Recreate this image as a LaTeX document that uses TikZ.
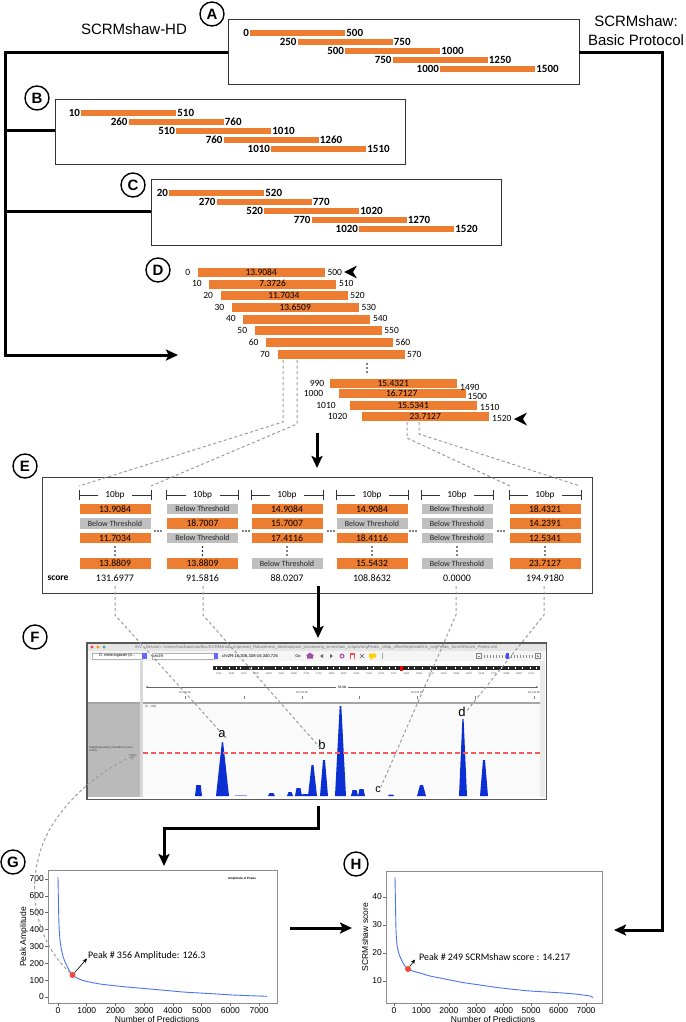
\documentclass[tikz,border=0pt]{standalone}
\usepackage{fontspec}
\setmainfont{Liberation Sans}
\newfontfamily\calib{Carlito}
\usetikzlibrary{arrows.meta}
\definecolor{barc}{HTML}{ED7D31}
\definecolor{thrc}{HTML}{BFBFBF}
\definecolor{guidec}{HTML}{9C9C9C}
\definecolor{peakc}{HTML}{0B2FD3}
\definecolor{curvec}{HTML}{4B74F2}
\definecolor{dotc}{HTML}{F2493A}
\definecolor{refc}{HTML}{F25C5C}
\newcommand\BT{Below Threshold}
\newcommand\hdd[2]{\fill (#1-3,#2) circle (0.85pt) (#1,#2) circle (0.85pt) (#1+3,#2) circle (0.85pt);}
\newcommand\vdd[2]{\fill (#1,#2-4) circle (0.85pt) (#1,#2) circle (0.85pt) (#1,#2+4) circle (0.85pt);}
\newcommand\pk[4]{\fill[peakc] (#1,796) -- ({(#1+#2)/2-#4},#3) -- ({(#1+#2)/2+#4},#3) -- (#2,796) -- cycle;}
\tikzset{
 flow/.style={line width=3pt, line join=miter, -{Stealth[length=12pt,width=11pt,inset=2.5pt]}},
 flowln/.style={line width=3pt},
 framebox/.style={draw=black!80, line width=0.9pt, fill=white, inner sep=0pt, anchor=north west},
 lettag/.style={circle, draw, fill=white, line width=1.4pt, minimum size=24pt, inner sep=0pt, font=\bfseries\fontsize{15}{15}\selectfont},
 guide/.style={draw=guidec, line width=1pt, dash pattern=on 3pt off 2.5pt},
 segbar/.style={fill=barc, minimum width=95pt, minimum height=6pt, inner sep=0pt, anchor=west},
 seglab/.style={font=\calib\bfseries\fontsize{11}{11}\selectfont, inner sep=0.8pt},
 dbar/.style={fill=barc, draw=white, line width=0.4pt, minimum width=128pt, minimum height=10pt, inner sep=0pt, anchor=west, font=\calib\fontsize{9.5}{10}\selectfont},
 dlab/.style={font=\calib\fontsize{9.5}{10}\selectfont, inner sep=0.5pt},
 celo/.style={fill=barc, minimum width=71pt, minimum height=10.5pt, inner sep=0pt, font=\calib\fontsize{9.7}{10}\selectfont},
 celg/.style={fill=thrc, minimum width=71pt, minimum height=10.5pt, inner sep=0pt, font=\calib\fontsize{8}{9}\selectfont, text=black!85},
 brk/.style={draw=black!80, line width=0.7pt},
 tinytxt/.style={inner sep=0pt, font=\fontsize{3.5}{4}\selectfont},
 ticklab/.style={font=\fontsize{8.5}{9}\selectfont, inner sep=0pt},
 axlab/.style={font=\fontsize{8.5}{9}\selectfont, inner sep=0pt},
 annot/.style={font=\calib\fontsize{10}{11}\selectfont, inner sep=0pt, anchor=west},
 pkl/.style={font=\fontsize{13}{13}\selectfont, inner sep=0pt},
 plotframe/.style={draw=black!45, line width=0.8pt, inner sep=0pt, anchor=north west},
 smalltip/.style={line width=0.6pt, -{Stealth[length=4.5pt,width=4pt]}},
}
\begin{document}
\begin{tikzpicture}[x=1pt,y=-1pt]
\useasboundingbox[fill=white] (0,0) rectangle (685,1022);

% ---------- headings ----------
\node[font=\fontsize{15}{15}\selectfont, inner sep=0] (hd) at (134,29) {SCRMshaw-HD};
\node[font=\fontsize{15}{19}\selectfont, align=center, inner sep=0] (bp) at (636,31) {SCRMshaw:\\Basic Protocol};

% ---------- boxes A B C ----------
\node[framebox, minimum width=351pt, minimum height=65pt] (boxA) at (228,19) {};
\node[framebox, minimum width=350pt, minimum height=65pt] (boxB) at (55,99) {};
\node[framebox, minimum width=350pt, minimum height=66pt] (boxC) at (151,179) {};

% ---------- thick connectors ----------
\coordinate (aL) at (228,53);
\coordinate (aR) at (579,53);
\coordinate (jTL) at (5,53);
\coordinate (jTR) at (662,53);
\coordinate (jB) at (5,131);
\coordinate (jC) at (5,211);
\coordinate (jD) at (5,355);
\coordinate (tipD) at (178,355);
\coordinate (jH) at (662,930);
\coordinate (tipH) at (614,930);
\draw[flow] (aL) -- (jTL) -- (jD) -- (tipD);
\draw[flowln] (jB) -- (boxB.west |- jB);
\draw[flowln] (jC) -- (boxC.west |- jC);
\draw[flow] (aR) -- (jTR) -- (jH) -- (tipH);

% ---------- letter tags ----------
\node[lettag] (tA) at (212,14) {A};
\node[lettag] (tB) at (37,98) {B};
\node[lettag] (tC) at (133,185) {C};
\node[lettag] (tD) at (158,270) {D};
\node[lettag] (tE) at (25,466) {E};
\node[lettag] (tF) at (35,637) {F};
\node[lettag] (tG) at (13,862) {G};
\node[lettag] (tH) at (356,864) {H};

% ---------- bars in A, B, C ----------
\foreach \i/\l/\r in {0/0/500,1/250/750,2/500/1000,3/750/1250,4/1000/1500}{
  \node[segbar] (a\i) at ({250+47.5*\i},{33+9*\i}) {};
  \node[seglab, anchor=east] (al\i) at (a\i.west) {\l};
  \node[seglab, anchor=west] (ar\i) at (a\i.east) {\r};
}
\foreach \i/\l/\r in {0/10/510,1/260/760,2/510/1010,3/760/1260,4/1010/1510}{
  \node[segbar] (b\i) at ({81+47.5*\i},{113+9*\i}) {};
  \node[seglab, anchor=east] (bl\i) at (b\i.west) {\l};
  \node[seglab, anchor=west] (br\i) at (b\i.east) {\r};
}
\foreach \i/\l/\r in {0/20/520,1/270/770,2/520/1020,3/770/1270,4/1020/1520}{
  \node[segbar] (c\i) at ({169+47.5*\i},{193+9*\i}) {};
  \node[seglab, anchor=east] (cl\i) at (c\i.west) {\l};
  \node[seglab, anchor=west] (cr\i) at (c\i.east) {\r};
}

% ---------- D ----------
\foreach \i/\xs/\yc/\l/\r/\v in {0/197/272/0/500/13.9084, 1/208.4/283.7/10/510/7.3726, 2/219.7/295.4/20/520/11.7034, 3/231/307/30/530/13.6509, 4/242.4/318.8/40/540/{}, 5/253.8/330.5/50/550/{}, 6/265.1/342.2/60/560/{}, 7/276.5/354/70/570/{}}{
  \node[dbar] (d\i) at (\xs,\yc) {\v};
  \node[dlab, anchor=east] (dl\i) at ([xshift=-6pt]d\i.west) {\l};
  \node[dlab, anchor=west] (dr\i) at ([xshift=1.5pt]d\i.east) {\r};
}
\node[dbar] (d8) at (329,383) {15.4321};
\node[dbar] (d9) at (337.5,393.5) {16.7127};
\node[dbar] (d10) at (349,405) {15.5341};
\node[dbar] (d11) at (361,416) {23.7127};
\node[dlab] (dl8) at (317,383) {990};
\node[dlab] (dl9) at (313.5,393.5) {1000};
\node[dlab] (dl10) at (326,405) {1010};
\node[dlab] (dl11) at (337.5,416) {1020};
\node[dlab, anchor=west] (dr8) at (459.5,387) {1490};
\node[dlab, anchor=west] (dr9) at (467,396.5) {1500};
\node[dlab, anchor=west] (dr10) at (479.5,407.5) {1510};
\node[dlab, anchor=west] (dr11) at (491.5,418.5) {1520};
\vdd{367}{368}
\fill (344,272) -- (357,265.5) -- (353,272) -- (357,278.5) -- cycle;
\fill (514,419) -- (527,412.5) -- (523,419) -- (527,425.5) -- cycle;

% ---------- E box ----------
\node[draw=black!75, line width=0.9pt, inner sep=0pt, anchor=north west, minimum width=550pt, minimum height=116pt] (boxE) at (42,477) {};
\foreach \k/\cx/\sA/\tA/\sB/\tB/\sC/\tC/\sD/\tD/\scr in {
 1/115/celo/13.9084/celg/\BT/celo/11.7034/celo/13.8809/131.6977,
 2/202.5/celg/\BT/celo/18.7007/celg/\BT/celo/13.8809/91.5816,
 3/287/celo/14.9084/celo/15.7007/celo/17.4116/celg/\BT/88.0207,
 4/372/celo/14.9084/celg/\BT/celo/18.4116/celo/15.5432/108.8632,
 5/457/celg/\BT/celg/\BT/celg/\BT/celg/\BT/0.0000,
 6/545/celo/18.4321/celo/14.2391/celo/12.5341/celo/23.7127/194.9180}{
  \draw[brk] (\cx-36,490) -- (\cx-36,500) (\cx-36,495) -- (\cx-17,495) (\cx+17,495) -- (\cx+36,495) (\cx+36,490) -- (\cx+36,500);
  \node[font=\calib\fontsize{9.3}{10}\selectfont, inner sep=0pt] (bp\k) at (\cx,495) {10bp};
  \node[\sA] (ea\k) at (\cx,509) {\tA};
  \node[\sB] (eb\k) at (\cx,523.5) {\tB};
  \node[\sC] (ec\k) at (\cx,538) {\tC};
  \vdd{\cx}{551}
  \node[\sD] (ed\k) at (\cx,563.5) {\tD};
  \node[font=\calib\fontsize{10}{11}\selectfont, inner sep=0pt] (es\k) at (\cx,578) {\scr};
}
\node[font=\calib\bfseries\fontsize{9.5}{10}\selectfont, inner sep=0pt] (scorelab) at (58,578) {score};
\foreach \x in {158,246,331,413,501}{\hdd{\x}{531}}

% D -> E guides
\coordinate (g1a) at (283,360); \coordinate (g1b) at (283,422); \coordinate (g1c) at (79,486);
\coordinate (g2a) at (297,360); \coordinate (g2b) at (297,424); \coordinate (g2c) at (151,486);
\coordinate (g3a) at (407,422); \coordinate (g3b) at (407,438); \coordinate (g3c) at (510,486);
\coordinate (g4a) at (419,422); \coordinate (g4b) at (419,434); \coordinate (g4c) at (580,486);
\draw[guide] (g1a) -- (g1b) -- (g1c);
\draw[guide] (g2a) -- (g2b) -- (g2c);
\draw[guide] (g3a) -- (g3b) -- (g3c);
\draw[guide] (g4a) -- (g4b) -- (g4c);

% D -> E and E -> F arrows
\coordinate (dEa) at (317,433); \coordinate (dEb) at (317,468);
\draw[flow] (dEa) -- (dEb);
\coordinate (eFa) at (318,586); \coordinate (eFb) at (318,638);
\draw[flow] (eFa) -- (eFb);

% ---------- F window (IGV) ----------
\path node[inner sep=0pt, anchor=north west, minimum width=459pt, minimum height=156pt] (winF) at (87,643) {};
\fill[black!10] (87,643) rectangle (546,651);
\fill[red!75] (92,647) circle (1.7pt);
\fill[orange!80!yellow] (98,647) circle (1.7pt);
\fill[teal!70] (104,647) circle (1.7pt);
\node[font=\fontsize{4.2}{5}\selectfont, text=black!55, inner sep=0pt] (ttl) at (316,647) {IGV - Session: /Users/hasibaasma/Box/SCRMshaw\_improved\_Robustness\_desktop/post\_processing\_scrmshaw\_scripts/origPeaks\_10bp\_offset/tmp/realOne\_origPeaks\_SumOfScore\_Peaks.xml};
\fill[black!4] (88,651) rectangle (545,661);
\node[draw=black!30, fill=white, minimum width=50pt, minimum height=6pt, inner sep=0pt, anchor=west, font=\fontsize{3.8}{4}\selectfont] (dd1) at (92,656) {D. melanogaster (d...};
\fill[blue!60] (142,653) rectangle (147,659);
\node[draw=black!30, fill=white, minimum width=62pt, minimum height=6pt, inner sep=0pt, anchor=west, font=\fontsize{3.8}{4}\selectfont, text width=60pt] (dd2) at (152,656) {chr2R};
\fill[blue!60] (214,653) rectangle (218,659);
\node[anchor=west, inner sep=0pt, font=\fontsize{4.2}{5}\selectfont] (locus) at (222,656) {chr2R:16,306,338-16,340,725};
\node[inner sep=0pt, font=\fontsize{4}{5}\selectfont] (go) at (298,656) {Go};
\fill[violet!70] (307,658.5) rectangle (313,655) (306,655.5) -- (310,652.5) -- (314,655.5) -- cycle;
\fill[black!60] (320,656) -- (323,654) -- (323,658) -- cycle;
\fill[black!60] (333,656) -- (330,654) -- (330,658) -- cycle;
\fill[violet!60] (342,656) circle (2.6pt);
\fill[white] (342,656) circle (1pt);
\fill[red!70] (349.5,653) rectangle (354.5,659);
\fill[white] (350.5,655) rectangle (353.5,658.5);
\draw[black!65, line width=0.6pt] (360,654) -- (364,658) (360,658) -- (364,654);
\fill[yellow!70!orange] (369,653.5) rectangle (376,657.5) (370,657.5) -- (371,660) -- (373,657.5) -- cycle;
\draw[black!35, line width=0.5pt] (382,653) -- (382,659);
\draw[black!50, line width=0.4pt] (476,653.5) rectangle (481,658.5) (477.5,656) -- (479.5,656);
\foreach \x in {484,487,...,532}{\draw[black!45, line width=0.3pt] (\x,654.5) -- (\x,657.5);}
\fill[blue!70] (506,653) rectangle (508.5,659);
\draw[black!50, line width=0.4pt] (535,653.5) rectangle (540,658.5) (536.5,656) -- (538.5,656) (537.5,655) -- (537.5,657);
% top panel
\fill[white] (88,661) rectangle (545,702);
\fill[black!85] (213,666) rectangle (540,670);
\foreach \x in {216,221,229,236,240,251,258,263,275,282,290,297,305,312,318,327,333,339,348,356,367,373,381,389,395,408,414,422,430,436,446,455,461,470,478,486,493,501,508,515,522,530,536}{\fill[white] (\x,666.6) rectangle (\x+1.4,669.4);}
\fill[red] (400,665.5) rectangle (402.5,670.5);
\foreach \x/\t in {219/4151,231.5/4332,244/4547,256.5/4657,269/4803,281.5/4941,294/4883,306.5/4793,319/4715,331.5/4802,344/4887,356.5/5003,369/5143,381.5/5221,394/5271,406.5/5283,419/5309,431.5/5421,444/5512,456.5/5682,469/5823,481.5/5155,494/5731,506.5/5889,519/5983,531.5/6017}{
  \node[inner sep=0pt, font=\fontsize{2.5}{3}\selectfont, text=black!70] at (\x,673.5) {\t};}
\draw[black!60, line width=0.4pt] (147,687) -- (537,687);
\fill[black!70] (147,687) circle (0.8pt) (537,687) circle (0.8pt);
\node[inner sep=0pt, inner xsep=2pt, fill=white, font=\fontsize{3.6}{4}\selectfont] (kb) at (342,687) {34 kb};
\foreach \x in {185,244,302,359,417,475,534}{\draw[black!50, line width=0.4pt] (\x,695.5) -- (\x,699);}
\foreach \x/\t in {185/{16,310 kb},302/{16,320 kb},417/{16,330 kb},534/{16,340 kb}}{
  \node[inner sep=0pt, font=\fontsize{2.8}{3}\selectfont, text=black!70] at (\x,692.5) {\t};}
\fill[black!35] (88,702) rectangle (545,704);
% data panel
\fill[black!27] (88,704) rectangle (140,797);
\fill[black!2] (143,704) rectangle (540,797);
\fill[black!15] (140,661) rectangle (143,797);
\fill[black!8] (540,661) rectangle (545,797);
\node[anchor=north west, inner sep=0pt, font=\fontsize{3}{3}\selectfont, text=black!70] (rng) at (145,705) {[0 - 100]};
\node[anchor=north west, inner sep=0pt, align=left, font=\fontsize{3}{3.6}\selectfont, text=black!75] (trk) at (89,746) {mapping1.adult\_mesoderm\_sum\\m.bxy};
\pk{195}{202}{785}{2.2}
\pk{216}{229}{742}{0.6}
\fill[peakc!45] (235,794.5) rectangle (247,796);
\pk{268}{275}{793}{2}
\pk{287}{293}{792}{1.5}
\pk{295}{302}{788}{2}
\pk{302}{309}{794}{3}
\pk{308}{317}{765}{1}
\pk{320}{328}{760}{1}
\pk{335}{346}{706}{0.8}
\pk{351}{358}{790}{2}
\pk{358}{365}{789}{2}
\pk{388}{394}{794.5}{2}
\pk{417}{426}{785}{1.5}
\pk{459}{467}{719}{0.6}
\pk{480}{488}{760}{1}
\draw[refc, line width=1.2pt, dash pattern=on 5pt off 3pt] (143,753) -- (540,753);
\draw[black!65, line width=1.3pt] (winF.north west) rectangle (winF.south east);
\node[pkl] (la) at (222,734) {a};
\node[pkl] (lb) at (322,745) {b};
\node[pkl, font=\fontsize{11}{11}\selectfont] (lc) at (378,790) {c};
\node[pkl] (ld) at (462,712) {d};

% E -> F guides
\coordinate (h1a) at (115,586); \coordinate (h1b) at (115,615);
\coordinate (h2a) at (203,586); \coordinate (h2b) at (203,615);
\coordinate (h3a) at (456,586); \coordinate (h3b) at (456,615);
\coordinate (h4a) at (544,586); \coordinate (h4b) at (544,615);
\draw[guide] (h1a) -- (h1b) -- (la.south east);
\draw[guide] (h2a) -- (h2b) -- (lb.south);
\draw[guide] (h3a) -- (h3b) -- (lc.north east);
\draw[guide] (h4a) -- (h4b) -- (ld.east);

% F -> G, G -> H
\coordinate (fGa) at (318,806); \coordinate (fGb) at (318,828); \coordinate (fGc) at (164,828); \coordinate (fGd) at (164,866);
\draw[flow] (fGa) -- (fGb) -- (fGc) -- (fGd);
\coordinate (gHa) at (290,928); \coordinate (gHb) at (352,928);
\draw[flow] (gHa) -- (gHb);

% ---------- G plot ----------
\node[plotframe, minimum width=229pt, minimum height=133pt] (plotG) at (48,870) {};
\foreach \k/\t in {0/0,1/1000,2/2000,3/3000,4/4000,5/5000,6/6000,7/7000}{
  \draw[black!60, line width=0.5pt] ({58+28.73*\k},1003) -- ({58+28.73*\k},1006);
  \node[ticklab] (gx\k) at ({58+28.73*\k},1010.5) {\t};
}
\foreach \k/\t in {0/0,1/100,2/200,3/300,4/400,5/500,6/600,7/700}{
  \draw[black!60, line width=0.5pt] (45,{997-16.86*\k}) -- (48,{997-16.86*\k});
  \node[ticklab, anchor=east] (gy\k) at (44,{997-16.86*\k}) {\t};
}
\node[axlab] (gxl) at (157,1019) {Number of Predictions};
\node[axlab, rotate=90] (gyl) at (24,937) {Peak Amplitude};
\node[inner sep=0pt, font=\bfseries\fontsize{3}{3}\selectfont] (gtitle) at (242,879) {Amplitude of Peaks};
\draw[curvec, line width=0.9pt] plot[smooth, tension=0.4] coordinates {(58,877) (58.5,905) (59,925) (60,940) (61.5,950) (63.5,958) (66,964) (69,970) (72.5,975) (77,978) (83,980.5) (92,982.5) (100,984) (117,986) (133,987.5) (150,989) (167,990.5) (183,992) (200,993) (217,994) (233,995) (250,995.7) (267,996.3)};
\node[circle, fill=dotc, minimum size=6pt, inner sep=0pt] (dotG) at (72.5,975) {};
\node[annot] (annG) at (88,956) {Peak \# 356 Amplitude: 126.3};
\coordinate (tipG) at (87,958.5);
\draw[smalltip] (dotG) -- (tipG);
\coordinate (panelTip) at (137,754);
\draw[guide, -{Stealth[length=8pt,width=7pt,inset=2pt]}] (dotG) .. controls (40,945) and (28,900) .. (38,860) .. controls (46,820) and (85,778) .. (panelTip);

% ---------- H plot ----------
\node[plotframe, minimum width=216pt, minimum height=132pt] (plotH) at (386,871) {};
\foreach \k/\t in {0/0,1/1000,2/2000,3/3000,4/4000,5/5000,6/6000,7/7000}{
  \draw[black!60, line width=0.5pt] ({394+27.43*\k},1003) -- ({394+27.43*\k},1006);
  \node[ticklab] (hx\k) at ({394+27.43*\k},1010.5) {\t};
}
\foreach \k/\t in {0/10,1/20,2/30,3/40}{
  \draw[black!60, line width=0.5pt] (383,{981-28*\k}) -- (386,{981-28*\k});
  \node[ticklab, anchor=east] (hy\k) at (382,{981-28*\k}) {\t};
}
\node[axlab] (hxl) at (493,1019) {Number of Predictions};
\node[axlab, rotate=90] (hyl) at (365,937) {SCRMshaw score};
\draw[curvec, line width=0.9pt] plot[smooth, tension=0.4] coordinates {(395,877) (395.5,905) (396,930) (397,945) (399,954) (402,961) (405,966) (408,969) (414,971.5) (420,973) (430,976) (445,979) (463,982.5) (480,985) (497,987.5) (515,989.5) (530,991) (547,992) (563,993) (575,994) (583,995) (590,996) (593,997.5)};
\node[circle, fill=dotc, minimum size=6pt, inner sep=0pt] (dotH) at (408,969) {};
\node[annot] (annH) at (419,957) {Peak \# 249 SCRMshaw score : 14.217};
\coordinate (tipHa) at (415,959.5);
\draw[smalltip] (dotH) -- (tipHa);
\end{tikzpicture}
\end{document}
